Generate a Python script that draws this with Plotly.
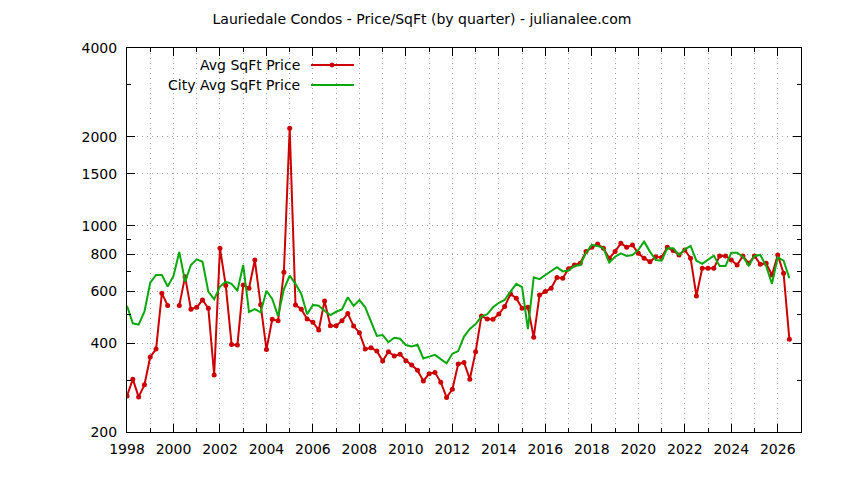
import plotly.graph_objects as go

start_year = 1998
quarter_step = 0.25

avg_price = [265, 302, 263, 289, 359, 382, 590, 537, None, 537,
             672, 521, 529, 560, 525, 312, 838, 627, 396, 394,
             630, 614, 765, 540, 381, 482, 476, 695, 2139, 539,
             521, 483, 471, 443, 556, 458, 458, 476, 504, 457,
             434, 382, 386, 376, 348, 374, 362, 367, 349, 337,
             324, 298, 315, 318, 295, 262, 279, 340, 344, 302,
             374, 494, 483, 482, 502, 532, 587, 568, 525, 529,
             419, 582, 598, 614, 667, 664, 715, 736, 746, 817,
             845, 867, 838, 776, 817, 872, 845, 861, 806, 776,
             755, 785, 781, 845, 824, 796, 828, 776, 578, 717,
             717, 717, 790, 790, 765, 736, 790, 746, 790, 740,
             746, 681, 796, 690, 412]

city_avg_price = [535, 467, 462, 511, 641, 681, 681, 622, 676, 815,
                  646, 736, 769, 755, 598, 563, 622, 646, 635, 602,
                  736, 510, 522, 509, 602, 565, 494, 609, 677, 635,
                  587, 501, 539, 536, 515, 498, 511, 520, 572, 535,
                  560, 529, 473, 423, 426, 403, 417, 414, 394, 390,
                  395, 355, 360, 365, 353, 342, 368, 376, 421, 447,
                  464, 492, 501, 529, 548, 560, 598, 635, 619, 446,
                  669, 659, 681, 704, 723, 700, 705, 730, 736, 810,
                  861, 854, 838, 750, 785, 806, 790, 796, 828, 883,
                  817, 765, 761, 838, 838, 796, 832, 854, 761, 743,
                  765, 792, 730, 730, 810, 810, 785, 733, 790, 796,
                  730, 635, 781, 761, 664]

x_quarters = [start_year + i * quarter_step for i in range(len(avg_price))]

y_tick_vals = [200, 400, 600, 800, 1000, 1500, 2000, 4000]
y_tick_text = ["200", "400", "600", "800", "1000", "1500", "2000", "4000"]
y_minor_vals = [300, 500, 700, 900, 3000]

series_names = ["Avg SqFt Price", "City Avg SqFt Price"]
title_text = "Lauriedale Condos - Price/SqFt (by quarter) - julianalee.com"

RED = "#cc0000"
GREEN = "#09a80c"
FONT = "DejaVu Sans"
FS = 14

fig = go.Figure()
fig.add_trace(go.Scatter(x=x_quarters, y=avg_price, mode="lines+markers",
                         name=series_names[0], connectgaps=False,
                         line=dict(color=RED, width=2),
                         marker=dict(color=RED, size=5),
                         showlegend=False))
fig.add_trace(go.Scatter(x=x_quarters, y=city_avg_price, mode="lines",
                         name=series_names[1],
                         line=dict(color=GREEN, width=2),
                         showlegend=False))

grid_dash = "1px,4px"
fig.update_layout(
    width=844, height=480,
    margin=dict(l=119, r=51, t=40, b=56),
    paper_bgcolor="white", plot_bgcolor="white",
    font=dict(family=FONT, size=FS, color="black"),
    title=dict(text=title_text, x=(422 - 8) / 844, xref="container", xanchor="center",
               y=1 - 11 / 480, yref="container", yanchor="middle",
               font=dict(family=FONT, size=FS, color="black")),
    xaxis=dict(range=[1998, 2027], tickmode="linear", tick0=1998, dtick=2,
               showline=True, linecolor="black", linewidth=1, mirror="ticks",
               ticks="inside", ticklen=8, tickcolor="black",
               showgrid=True, gridcolor="#a0a0a0", gridwidth=1, griddash=grid_dash,
               zeroline=False, tickfont=dict(family=FONT, size=FS),
               ticklabelstandoff=4,
               minor=dict(dtick=1, tick0=1998, ticks="inside", ticklen=4,
                          tickcolor="black", showgrid=True, gridcolor="#a0a0a0",
                          griddash=grid_dash, gridwidth=1)),
    yaxis=dict(type="log", range=[2.30103, 3.60206], tickmode="array",
               tickvals=y_tick_vals, ticktext=y_tick_text,
               showline=True, linecolor="black", linewidth=1, mirror="ticks",
               ticks="inside", ticklen=8, tickcolor="black",
               showgrid=True, gridcolor="#a0a0a0", gridwidth=1, griddash=grid_dash,
               zeroline=False, tickfont=dict(family=FONT, size=FS),
               ticklabelstandoff=6,
               minor=dict(tickmode="array", tickvals=y_minor_vals, ticks="inside",
                          ticklen=4, tickcolor="black", showgrid=False)),
)

# gnuplot-style key: text on the left, line sample on the right
def px(x):
    return (x - 127) / 674

def py(y):
    return (432 - y) / 384

legend_rows = [(series_names[0], RED, 65, True), (series_names[1], GREEN, 85, False)]
for name, color, ypix, has_marker in legend_rows:
    fig.add_annotation(x=px(302), y=py(ypix), xref="paper", yref="paper",
                       text=name, showarrow=False, xanchor="right", yanchor="middle",
                       font=dict(family=FONT, size=FS, color="black"))
    fig.add_shape(type="line", xref="paper", yref="paper",
                  x0=px(311), x1=px(354), y0=py(ypix), y1=py(ypix),
                  line=dict(color=color, width=2))
    if has_marker:
        fig.add_shape(type="circle", xref="paper", yref="paper",
                      x0=px(330), x1=px(334), y0=py(ypix + 2), y1=py(ypix - 2),
                      fillcolor=color, line=dict(color=color, width=1))

fig.write_html("out.html")
